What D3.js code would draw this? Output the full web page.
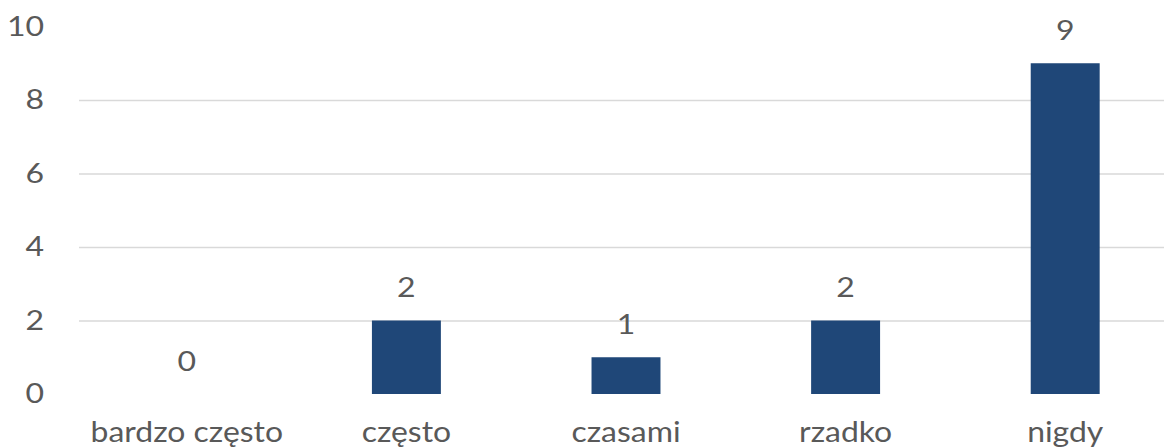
<!DOCTYPE html>
<html>
<head>
<meta charset="utf-8">
<script src="https://cdn.jsdelivr.net/npm/d3@7"></script>
<style>
  html, body { margin: 0; padding: 0; background: #fff; }
  svg text { font-family: Lato, "Open Sans", sans-serif; fill: #595959; }
</style>
</head>
<body>
<svg id="chart" width="1164" height="447"></svg>
<script>
const categories = ["bardzo często", "często", "czasami", "rzadko", "nigdy"];
const values = [0, 2, 1, 2, 9];
const yTicks = [0, 2, 4, 6, 8, 10];
const gridTicks = [2, 4, 6, 8];

const svg = d3.select("#chart");

const x = d3.scaleBand()
  .domain(categories)
  .range([77, 1175])
  .paddingInner(0.686)
  .paddingOuter(0.343);

const y = d3.scaleLinear()
  .domain([0, 10])
  .range([394, 26.5]);

// draws a horizontally widened label anchored at (px, py)
function label(g, px, py, anchor, txt, size, stretch) {
  g.append("text")
    .attr("transform", `translate(${px},${py}) scale(${stretch},1)`)
    .attr("text-anchor", anchor)
    .attr("font-size", size)
    .text(txt);
}

// horizontal gridlines
svg.append("g")
  .selectAll("line")
  .data(gridTicks)
  .join("line")
  .attr("x1", 79)
  .attr("x2", 1164)
  .attr("y1", d => y(d) + 0.5)
  .attr("y2", d => y(d) + 0.5)
  .attr("stroke", "#d9d9d9")
  .attr("stroke-width", 1.3);

// y axis labels (positions from the axis scale)
const gy = svg.append("g");
yTicks.forEach(t => label(gy, 44, y(t) + 26 * 0.36, "end", d3.format("d")(t), 26, 1.23));

// bars
svg.append("g")
  .selectAll("rect")
  .data(values)
  .join("rect")
  .attr("x", (d, i) => x(categories[i]))
  .attr("width", x.bandwidth())
  .attr("y", d => y(d))
  .attr("height", d => y(0) - y(d))
  .attr("fill", "#1f4778");

// value labels
const gv = svg.append("g");
values.forEach((v, i) => label(gv, x(categories[i]) + x.bandwidth() / 2, y(v) - 23.5, "middle", v, 26, 1.23));

// category labels
const gx = svg.append("g");
categories.forEach(c => label(gx, x(c) + x.bandwidth() / 2, 441.5, "middle", c, 28, 1.14));
</script>
</body>
</html>
